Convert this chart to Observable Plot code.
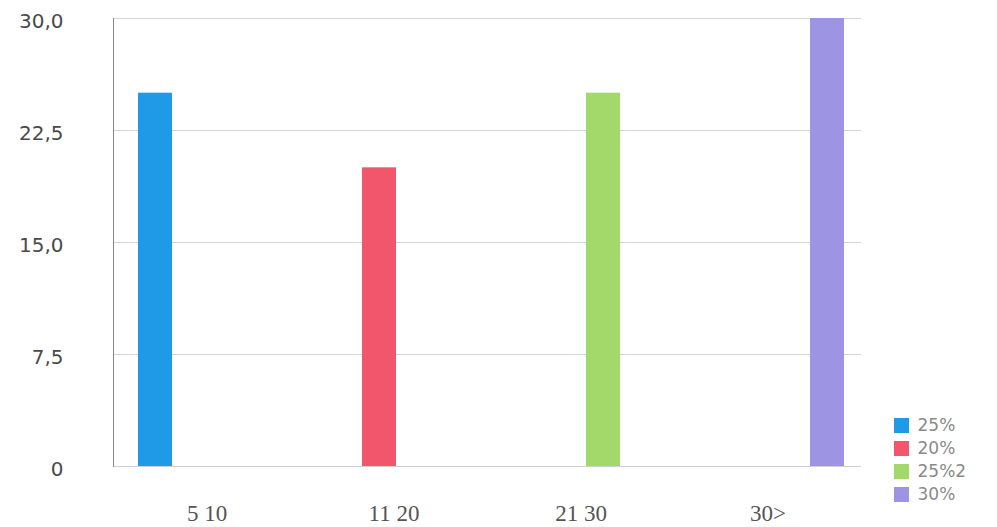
<!DOCTYPE html>
<html>
<head>
<meta charset="utf-8">
<script src="https://cdn.jsdelivr.net/npm/d3@7"></script>
<script src="https://cdn.jsdelivr.net/npm/@observablehq/plot@0.6"></script>
<style>
  html, body { margin: 0; padding: 0; background: #fff; }
  #wrap { position: relative; width: 997px; height: 527px; overflow: hidden; }
  #legend { position: absolute; left: 894px; top: 414px; }
  #legend, #legend * { font-family: "DejaVu Sans", sans-serif; font-size: 17px; color: #8a8a8a; line-height: 22px; }
</style>
</head>
<body>
<div id="wrap"><div id="chart"></div><div id="legend"></div></div>
<script>
const categories = ["5 10", "11 20", "21 30", "30>"];
const series = ["25%", "20%", "25%2", "30%"];
const values = [25, 20, 25, 30];
const colors = ["#1f9ae6", "#f2566c", "#a3d96b", "#9d95e4"];
const yTicks = [0, 7.5, 15, 22.5, 30];

const data = categories.map((c, i) => ({category: c, series: series[i], value: values[i]}));
const fmt = d => d === 0 ? "0" : d.toFixed(1).replace(".", ",");

const chart = Plot.plot({
  width: 997,
  height: 527,
  marginTop: 18,
  marginBottom: 61,
  marginLeft: 112,
  marginRight: 135,
  style: {background: "#fff"},
  fx: {domain: categories, paddingInner: 0, paddingOuter: 0},
  x: {domain: series, paddingInner: 0.07, paddingOuter: 0.55, align: 0.6, axis: null},
  y: {domain: [0, 30]},
  color: {domain: series, range: colors},
  marks: [
    Plot.gridY(yTicks, {stroke: "#d4d4d4", strokeOpacity: 1}),
    Plot.ruleY([0], {stroke: "#cfcfcf"}),
    Plot.frame({anchor: "left", facetAnchor: "left", stroke: "#888"}),
    Plot.barY(data, {fx: "category", x: "series", y: "value", fill: "series"}),
    Plot.axisY(yTicks, {tickSize: 0, tickPadding: 50, tickFormat: fmt, fontSize: 20, fontFamily: "DejaVu Sans", fill: "#4a4a4a", dy: 3, label: null}),
    Plot.axisFx({anchor: "bottom", tickSize: 0, tickPadding: 38, fontSize: 23, fontFamily: "Liberation Serif", fill: "#555", label: null})
  ]
});
document.getElementById("chart").appendChild(chart);

const leg = Plot.legend({
  color: {domain: series, range: colors},
  legend: "swatches",
  columns: 1,
  swatchSize: 15
});
document.getElementById("legend").appendChild(leg);
</script>
</body>
</html>
